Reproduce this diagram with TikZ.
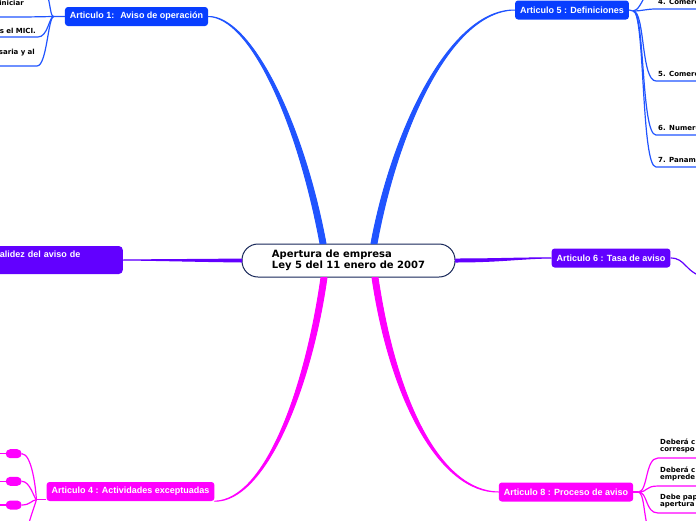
\documentclass[tikz,border=0pt]{standalone}
\usepackage{fontspec}
\setmainfont{DejaVu Sans}
\newfontfamily\topicfont{Liberation Sans}
\usepackage{xcolor}
\usepackage{tikz}
\usetikzlibrary{calc,positioning}

\definecolor{blueTopic}{RGB}{8,62,255}
\definecolor{blueLine}{RGB}{32,84,255}
\definecolor{violetTopic}{RGB}{98,0,255}
\definecolor{pinkTopic}{RGB}{255,0,255}
\definecolor{rootEdge}{RGB}{22,38,88}

\begin{document}
\begin{tikzpicture}[x=1pt,y=-1pt,line join=round,
root/.style={draw=rootEdge,line width=1pt,fill=white,rounded corners=16pt,minimum width=213pt,minimum height=33pt,align=left,font=\bfseries\fontsize{10}{11.5}\selectfont},
topic/.style={rounded corners=3pt,text=white,inner xsep=5pt,inner ysep=0pt,minimum height=19pt,font=\topicfont\bfseries\fontsize{9}{11}\selectfont},
leaf/.style={inner xsep=2pt,inner ysep=3.5pt,text width=70pt,font=\bfseries\fontsize{7}{7.8}\selectfont},
leafR/.style={leaf,anchor=south west,align=left},
leafL/.style={leaf,anchor=south east,align=right},
pill/.style={fill=pinkTopic,rounded corners=4.5pt,minimum width=16pt,minimum height=9pt,inner sep=0pt},
twig/.style={line width=1.2pt}]
\useasboundingbox (0,0) rectangle (696,520);
\clip (0,0) rectangle (696,520);

%% central topic and main topics
\node[root] (root) at (348.5,260.5) {Apertura de empresa\\Ley 5 del 11 enero de 2007};
\node[topic,fill=blueTopic] (art1) at (136.5,16.5) {Articulo 1:~ Aviso de operación};
\node[topic,fill=blueTopic] (art5) at (572,10) {Articulo 5 : Definiciones};
\node[topic,fill=violetTopic] (art6) at (611,258) {Articulo 6 : Tasa de aviso};
\node[topic,fill=violetTopic,anchor=east,minimum height=28pt,text width=118pt,align=left,rounded corners=4pt] (art7) at (123,260) {alidez del aviso de\\\mbox{}};
\node[topic,fill=pinkTopic] (art4) at (130.5,491.5) {Articulo 4 : Actividades exceptuadas};
\node[topic,fill=pinkTopic] (art8) at (566,492) {Articulo 8 : Proceso de aviso};

%% thick branches
\filldraw[blueLine,line width=1pt] ($(root.north)+(-28.5,0)$) .. controls (297,120) and (250,17.5) .. (art1.east) .. controls (250,15.5) and (303,120) .. ($(root.north)+(-22.5,0)$) -- cycle;
\filldraw[blueLine,line width=1pt] ($(root.north)+(22.5,0)$) .. controls (392,130) and (450,9) .. (art5.west) .. controls (450,11) and (398,130) .. ($(root.north)+(28.5,0)$) -- cycle;
\filldraw[violetTopic,line width=1pt] ($(root.west)+(0,-1.5)$) .. controls (200,259.5) and (160,259.6) .. (art7.east) .. controls (160,260.4) and (200,261.5) .. ($(root.west)+(0,1.5)$) -- cycle;
\filldraw[violetTopic,line width=1pt] ($(root.east)+(0,-1.5)$) .. controls (500,259) and (520,257.6) .. (art6.west) .. controls (520,258.4) and (500,262) .. ($(root.east)+(0,1.5)$) -- cycle;
\filldraw[pinkTopic,line width=1pt] ($(root.south)+(-27.5,0)$) .. controls (305,390) and (265,500) .. (art4.south east) .. controls (265,502) and (311,390) .. ($(root.south)+(-21.5,0)$) -- cycle;
\filldraw[pinkTopic,line width=1pt] ($(root.south)+(23.5,0)$) .. controls (390,400) and (440,493) .. (art8.west) .. controls (440,491) and (396,400) .. ($(root.south)+(29.5,0)$) -- cycle;

%% sub topics
\node[leafL] (d1) at (26,17) {iniciar\\\mbox{}};
\node[leafL] (d2) at (38,37) {s el MICI.};
\node[leafL] (d3) at (37,66) {saria y al\\\mbox{}};
\node[leafR,inner ysep=4.5pt] (e4) at (656,9) {4. Comerc};
\node[leafR,inner ysep=4.5pt] (e5) at (656,81) {5. Comerc};
\node[leafR,inner ysep=4.5pt] (e6) at (656,135) {6. Numero};
\node[leafR,inner ysep=4.5pt] (e7) at (656,167) {7. Panama};
\node[leafR,inner ysep=4.5pt] (f1) at (658,458) {Deberá c\\correspo};
\node[leafR,inner ysep=4.5pt] (f2) at (658,486) {Deberá c\\emprede};
\node[leafR,inner ysep=4.5pt] (f3) at (658,513) {Debe pap\\apertura};
\node[pill] (p1) at (13.7,453.7) {};
\node[pill] (p2) at (13.7,481.3) {};
\node[pill] (p3) at (13.7,505) {};

\coordinate (j1) at ($(art1.west)+(-11,0)$);
\coordinate (j5) at ($(art5.east)+(4,1)$);
\coordinate (j8) at ($(art8.east)+(5,0)$);
\coordinate (j4) at ($(art4.south west)+(-10,-1.5)$);
\coordinate (d0) at (46,-10);
\coordinate (e0) at (648,-10);
\coordinate (f0) at (648,530);
\coordinate (g0) at (27,530);
\coordinate (h0) at (706,278);
\coordinate (p1x) at (-10,453.7);
\coordinate (p2x) at (-10,481.3);
\coordinate (p3x) at (-10,505);

%% thin connectors
\begin{scope}[twig,blueLine]
\draw (art1.west) -- (j1) -- (d1.south east) -- (d1.south west);
\draw (j1) .. controls (50,16.5) and (51,5) .. (d0);
\draw (j1) .. controls (49,16.5) and (48,37) .. (d2.south east) -- (d2.south west);
\draw (j1) .. controls (48,16.5) and (47,66) .. (d3.south east) -- (d3.south west);
\draw (art5.east) -- (j5);
\draw (j5) .. controls (638,11) and (642,2) .. (e0);
\draw (j5) .. controls (642,11) and (646,9) .. (e4.south west) -- (e4.south east);
\draw (j5) .. controls (645,11) and (641,81) .. (e5.south west) -- (e5.south east);
\draw (j5) .. controls (645,11) and (641,135) .. (e6.south west) -- (e6.south east);
\draw (j5) .. controls (645,11) and (641,167) .. (e7.south west) -- (e7.south east);
\end{scope}
\draw[twig,violetTopic] (art6.east) .. controls (686,258) and (684,272) .. (h0);
\begin{scope}[twig,pinkTopic]
\draw (art8.east) -- (j8);
\draw (j8) .. controls (648,492) and (645,458) .. (f1.south west) -- (f1.south east);
\draw (j8) .. controls (648,492) and (645,486) .. (f2.south west) -- (f2.south east);
\draw (j8) .. controls (648,492) and (645,513) .. (f3.south west) -- (f3.south east);
\draw (j8) .. controls (644,494) and (643,508) .. (f0);
\draw (art4.south west |- j4) -- (j4);
\draw (p1.west) -- (p1x);
\draw (p2.west) -- (p2x);
\draw (p3.west) -- (p3x);
\draw (p1.east) .. controls (32,453.7) and (36,490) .. (j4);
\draw (p2.east) .. controls (30,481.3) and (34,498) .. (j4);
\draw (p3.east) .. controls (30,505) and (32,500) .. (j4);
\draw (j4) .. controls (35,505) and (31,515) .. (g0);
\end{scope}
\end{tikzpicture}
\end{document}
